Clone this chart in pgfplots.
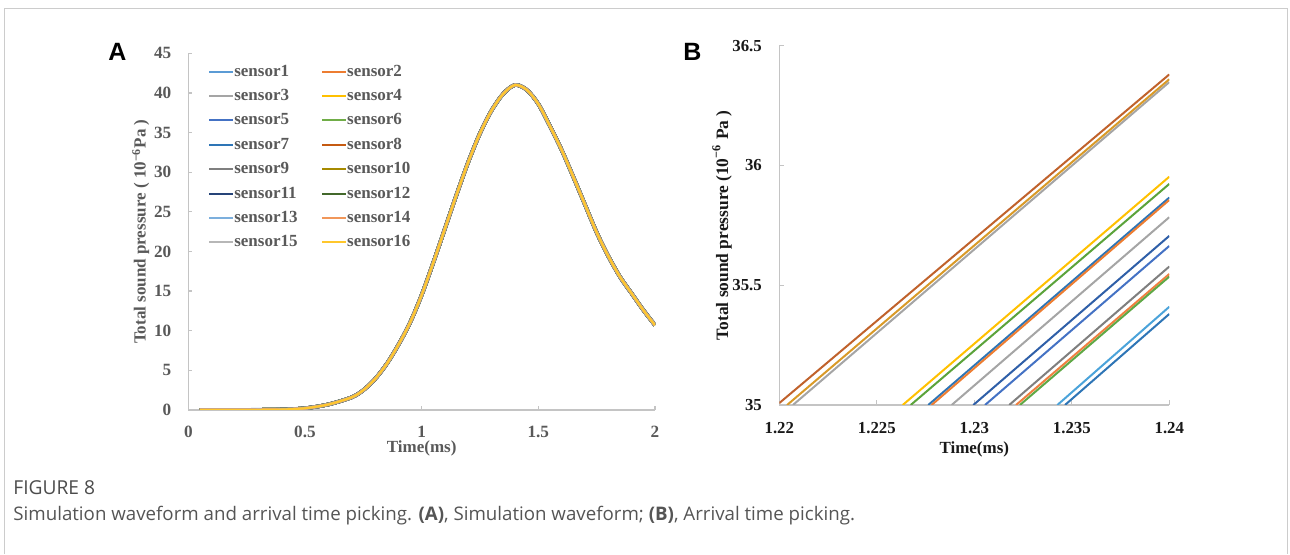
\documentclass[border=0pt]{standalone}
\usepackage{fontspec}
\setmainfont{Liberation Serif}
\newfontfamily\lettfont{Liberation Sans}
\newfontfamily\capfont{Open Sans}
\usepackage{pgfplots}
\usepackage{pgfplotstable}
\pgfplotsset{compat=1.18}

\definecolor{s1}{HTML}{5B9BD5}
\definecolor{s2}{HTML}{ED7D31}
\definecolor{s3}{HTML}{A5A5A5}
\definecolor{s4}{HTML}{FFC000}
\definecolor{s5}{HTML}{4472C4}
\definecolor{s6}{HTML}{70AD47}
\definecolor{s7}{HTML}{2E75B6}
\definecolor{s8}{HTML}{C55A11}
\definecolor{s9}{HTML}{7F7F7F}
\definecolor{s10}{HTML}{A68A00}
\definecolor{s11}{HTML}{264478}
\definecolor{s12}{HTML}{43682B}
\definecolor{s13}{HTML}{7CAFDD}
\definecolor{s14}{HTML}{F1975A}
\definecolor{s15}{HTML}{B7B7B7}
\definecolor{s16}{HTML}{FFC72C}
\definecolor{bgold}{HTML}{D99A28}
\definecolor{bbrown}{HTML}{C0622C}
\definecolor{bgreen}{HTML}{5BA33B}
\definecolor{bblue}{HTML}{2F5FA8}
\definecolor{borange}{HTML}{F08040}
\definecolor{bgreenb}{HTML}{5FA845}
\definecolor{blight}{HTML}{4BA3DA}
\definecolor{framegray}{HTML}{CCCCCC}
\definecolor{axgray}{HTML}{C4C4C4}
\definecolor{tickgray}{HTML}{595959}
\definecolor{capgray}{HTML}{555555}

\pgfplotstableread{
t p
0.05 0
0.2 0
0.3 0.02
0.4 0.06
0.5 0.22
0.6 0.7
0.7 1.6
0.75 2.5
0.8 3.9
0.85 5.8
0.9 8.2
0.95 11.0
1.0 14.5
1.05 18.6
1.1 22.9
1.15 27.2
1.2 31.3
1.25 34.9
1.3 37.8
1.35 39.9
1.4 41.0
1.45 40.4
1.5 38.6
1.55 35.8
1.6 32.8
1.65 29.4
1.7 25.9
1.75 22.4
1.8 19.4
1.85 16.8
1.9 14.7
1.95 12.6
2.0 10.7
}\wave

\begin{document}
\begin{tikzpicture}
\path (0pt,0pt) rectangle (645pt,277.5pt);
\draw[framegray, line width=0.6pt] (2.15pt,0.4pt) -- (2.15pt,273.35pt) -- (643.6pt,273.35pt) -- (643.6pt,0.4pt);

\node[anchor=base west, inner sep=0, font=\lettfont\bfseries\fontsize{12.5}{14}\selectfont] at (54pt,247pt) {A};
\node[anchor=base west, inner sep=0, font=\lettfont\bfseries\fontsize{12.5}{14}\selectfont] at (341.5pt,247.2pt) {B};

\node[anchor=base west, inner sep=0, font=\capfont\fontsize{9.6}{11}\selectfont, text=capgray!90!black] at (6.5pt,30pt) {FIGURE 8};
\node[anchor=base west, inner sep=0, font=\capfont\fontsize{9.35}{11}\selectfont, text=capgray] at (6.5pt,17pt) {Simulation waveform and arrival time picking. \textbf{(A)}, Simulation waveform; \textbf{(B)}, Arrival time picking.};

\begin{axis}[
  at={(94.15pt,72.5pt)}, anchor=south west,
  scale only axis, width=233.35pt, height=178.35pt,
  xmin=0, xmax=2, ymin=0, ymax=45,
  axis x line*=bottom, axis y line*=left,
  axis line style={draw=axgray, line width=0.6pt, -},
  xtick={0,0.5,1,1.5,2}, xticklabels={0,0.5,1,1.5,2},
  ytick={0,5,10,15,20,25,30,35,40,45},
  yticklabels={0,5,10,15,20,25,30,35,40,45},
  scaled ticks=false,
  tick align=inside, major tick length=2pt,
  tick style={draw=axgray, line width=0.6pt},
  /pgf/number format/assume math mode=true,
  ticklabel style={font=\bfseries\fontsize{8.6}{10}\selectfont, text=tickgray},
  xticklabel style={yshift=-4.5pt},
  yticklabel style={xshift=-5pt},
  xlabel={Time(ms)},
  xlabel style={at={(axis description cs:0.5,-0.1065)}, anchor=center, font=\bfseries\fontsize{8.5}{10}\selectfont, text=tickgray},
  ylabel={Total sound pressure ( 10\textsuperscript{−6}Pa )},
  ylabel style={at={(axis description cs:-0.102,0.5)}, anchor=center, font=\bfseries\fontsize{8.5}{10}\selectfont, text=tickgray},
  legend columns=2,
  legend cell align=left,
  legend image code/.code={\draw[#1, line width=1pt] (0pt,0pt) -- (11.7pt,0pt);},
  legend style={draw=none, fill=none, at={(0.042,0.9726)}, anchor=north west,
    inner sep=0pt, row sep=4.1pt,
    font=\bfseries\fontsize{8.5}{10}\selectfont, text=tickgray,
    nodes={inner sep=0.3pt, text height=6pt, text depth=1.5pt},
    /tikz/every even column/.append style={column sep=11.5pt}},
  every axis plot/.append style={smooth, tension=0.5},
]
\addplot[s1, line width=1.9pt] table[x=t,y=p]{\wave}; \addlegendentry{sensor1}
\addplot[s2, line width=1.8pt] table[x=t,y=p]{\wave}; \addlegendentry{sensor2}
\addplot[s3, line width=1.8pt] table[x=t,y=p]{\wave}; \addlegendentry{sensor3}
\addplot[s4, line width=1.8pt] table[x=t,y=p]{\wave}; \addlegendentry{sensor4}
\addplot[s5, line width=1.8pt] table[x=t,y=p]{\wave}; \addlegendentry{sensor5}
\addplot[s6, line width=1.8pt] table[x=t,y=p]{\wave}; \addlegendentry{sensor6}
\addplot[s7, line width=1.8pt] table[x=t,y=p]{\wave}; \addlegendentry{sensor7}
\addplot[s8, line width=1.8pt] table[x=t,y=p]{\wave}; \addlegendentry{sensor8}
\addplot[s9, line width=1.8pt] table[x=t,y=p]{\wave}; \addlegendentry{sensor9}
\addplot[s10, line width=1.8pt] table[x=t,y=p]{\wave}; \addlegendentry{sensor10}
\addplot[s11, line width=1.8pt] table[x=t,y=p]{\wave}; \addlegendentry{sensor11}
\addplot[s12, line width=1.8pt] table[x=t,y=p]{\wave}; \addlegendentry{sensor12}
\addplot[s13, line width=1.8pt] table[x=t,y=p]{\wave}; \addlegendentry{sensor13}
\addplot[s14, line width=1.55pt] table[x=t,y=p]{\wave}; \addlegendentry{sensor14}
\addplot[s15, line width=1.1pt] table[x=t,y=p]{\wave}; \addlegendentry{sensor15}
\addplot[s16, line width=1.05pt] table[x=t,y=p]{\wave}; \addlegendentry{sensor16}
\end{axis}

\begin{axis}[
  at={(389.65pt,75pt)}, anchor=south west,
  scale only axis, width=195pt, height=179.65pt,
  xmin=1.22, xmax=1.24, ymin=35, ymax=36.5,
  axis x line*=bottom, axis y line*=left,
  axis line style={draw=axgray, line width=0.6pt, -},
  xtick={1.22,1.225,1.23,1.235,1.24}, xticklabels={1.22,1.225,1.23,1.235,1.24},
  ytick={35,35.5,36,36.5}, yticklabels={35,35.5,36,36.5},
  scaled ticks=false,
  tick align=inside, major tick length=2.5pt,
  tick style={draw=axgray, line width=0.6pt},
  /pgf/number format/assume math mode=true,
  ticklabel style={font=\bfseries\fontsize{8.4}{10}\selectfont, text=black!90},
  xticklabel style={yshift=-5.1pt},
  yticklabel style={xshift=-5.2pt},
  xlabel={Time(ms)},
  xlabel style={at={(axis description cs:0.5,-0.1225)}, anchor=center, font=\bfseries\fontsize{8.5}{10}\selectfont, text=black!90},
  ylabel={Total sound pressure (10\textsuperscript{−6} Pa )},
  ylabel style={at={(axis description cs:-0.1467,0.5)}, anchor=center, font=\bfseries\fontsize{8.7}{10}\selectfont, text=black!90},
  every axis plot/.append style={line width=1pt},
]
\addplot[s3] coordinates {(1.2207,35) (1.24,36.348)};
\addplot[bgold] coordinates {(1.2204,35) (1.24,36.36)};
\addplot[bbrown] coordinates {(1.22,35.008) (1.24,36.38)};
\addplot[s4] coordinates {(1.22633,35) (1.24,35.953)};
\addplot[bgreen] coordinates {(1.22674,35) (1.24,35.923)};
\addplot[s7] coordinates {(1.22764,35) (1.24,35.866)};
\addplot[s2] coordinates {(1.22781,35) (1.24,35.856)};
\addplot[s3] coordinates {(1.22884,35) (1.24,35.784)};
\addplot[bblue] coordinates {(1.22995,35) (1.24,35.706)};
\addplot[s5] coordinates {(1.23055,35) (1.24,35.664)};
\addplot[s9] coordinates {(1.23179,35) (1.24,35.578)};
\addplot[borange] coordinates {(1.23214,35) (1.24,35.547)};
\addplot[bgreenb] coordinates {(1.23234,35) (1.24,35.536)};
\addplot[blight] coordinates {(1.23426,35) (1.24,35.41)};
\addplot[s7] coordinates {(1.23465,35) (1.24,35.38)};
\end{axis}
\end{tikzpicture}
\end{document}
